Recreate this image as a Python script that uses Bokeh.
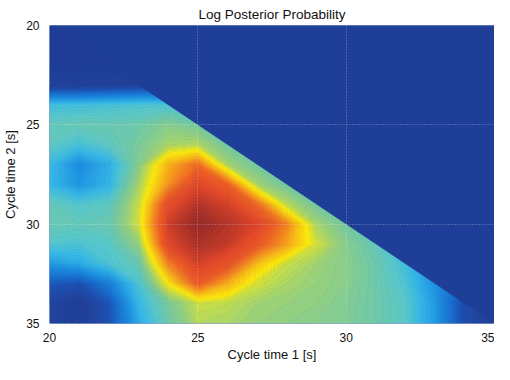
import numpy as np
from bokeh.plotting import figure
from bokeh.models import Range1d, FixedTicker
from bokeh.embed import file_html
from bokeh.resources import INLINE

# ---------------- data ----------------
title_text = "Log Posterior Probability"
x_label = "Cycle time 1 [s]"
y_label = "Cycle time 2 [s]"
tick_values = [20, 25, 30, 35]

cycle_time_1 = [20, 21, 22, 23, 24, 25, 26, 27, 28, 29, 30, 31, 32, 33, 34, 35]
cycle_time_2 = [20, 21, 22, 23, 24, 25, 26, 27, 28, 29, 30, 31, 32, 33, 34, 35]

# relative log-posterior (0 = lowest shown, 100 = peak); rows: cycle time 2, cols: cycle time 1
logpost_t2_20 = [2, 2, 2, 2, 2, 2, 2, 2, 2, 2, 2, 2, 2, 2, 2, 2]
logpost_t2_21 = [2, 2, 2, 2, 2, 2, 2, 2, 2, 2, 2, 2, 2, 2, 2, 2]
logpost_t2_22 = [2, 2, 2, 2, 2, 2, 2, 2, 2, 2, 2, 2, 2, 2, 2, 2]
logpost_t2_23 = [6, 6, 7, 8, 8, 5, 5, 5, 5, 5, 5, 5, 5, 5, 5, 5]
logpost_t2_24 = [38, 38, 39, 40, 40, 38, 30, 20, 10, 5, 5, 5, 5, 5, 5, 5]
logpost_t2_25 = [44, 45, 45, 46, 50, 47, 42, 35, 25, 15, 8, 5, 5, 5, 5, 5]
logpost_t2_26 = [43, 39, 43, 48, 54, 55, 47, 42, 35, 25, 15, 8, 5, 5, 5, 5]
logpost_t2_27 = [37, 27, 34, 50, 70, 80, 54, 47, 42, 36, 28, 18, 10, 6, 5, 5]
logpost_t2_28 = [36, 29, 35, 54, 74, 90, 82, 54, 47, 42, 36, 28, 18, 10, 6, 5]
logpost_t2_29 = [44, 41, 43, 57, 88, 96, 92, 80, 56, 47, 42, 35, 25, 14, 8, 5]
logpost_t2_30 = [45, 44, 45, 58, 93, 100, 96, 91, 76, 54, 47, 42, 33, 20, 10, 6]
logpost_t2_31 = [41, 40, 42, 52, 90, 97, 94, 85, 72, 58, 50, 44, 36, 24, 12, 6]
logpost_t2_32 = [30, 33, 40, 45, 76, 92, 86, 68, 57, 53, 50, 46, 38, 26, 14, 7]
logpost_t2_33 = [16, 14, 24, 40, 62, 83, 70, 58, 54, 52, 50, 46, 40, 28, 16, 8]
logpost_t2_34 = [9, 5, 15, 36, 48, 57, 56, 53, 52, 51, 49, 46, 42, 30, 12, 6]
logpost_t2_35 = [9, 5, 14, 33, 46, 55, 54, 52, 51, 50, 49, 46, 42, 30, 12, 5]

logpost = np.array([
    logpost_t2_20, logpost_t2_21, logpost_t2_22, logpost_t2_23,
    logpost_t2_24, logpost_t2_25, logpost_t2_26, logpost_t2_27,
    logpost_t2_28, logpost_t2_29, logpost_t2_30, logpost_t2_31,
    logpost_t2_32, logpost_t2_33, logpost_t2_34, logpost_t2_35,
], dtype=float)

# ---------------- colour map (muted jet) ----------------
cmap_pos = [0, 8, 14, 20, 28, 36, 42, 46, 52, 57, 62, 68, 75, 82, 90, 96, 101]
cmap_rgb = [
    (30, 60, 150), (33, 66, 155), (30, 80, 175), (25, 110, 205),
    (30, 145, 225), (55, 185, 230), (90, 200, 200), (110, 200, 170),
    (150, 208, 125), (200, 222, 70), (255, 235, 10), (252, 195, 20),
    (248, 140, 30), (240, 95, 35), (228, 72, 40), (180, 52, 40),
    (140, 38, 40),
]


def color_at(v):
    arr = np.array(cmap_rgb, dtype=float)
    r = np.interp(v, cmap_pos, arr[:, 0])
    g = np.interp(v, cmap_pos, arr[:, 1])
    b = np.interp(v, cmap_pos, arr[:, 2])
    return "#%02x%02x%02x" % (int(round(r)), int(round(g)), int(round(b)))


levels = np.arange(0.0, 102.0, 1.0)
band_colors = [color_at((levels[i] + levels[i + 1]) / 2) for i in range(len(levels) - 1)]
line_colors = [color_at(l) for l in levels]

FONT = "Liberation Sans"

p = figure(
    width=494, height=364,
    x_range=Range1d(tick_values[0], tick_values[-1]),
    y_range=Range1d(tick_values[-1], tick_values[0]),
    output_backend="svg", toolbar_location=None,
    title=title_text,
    min_border_left=40, min_border_right=0, min_border_top=4, min_border_bottom=0,
)

p.contour(x=cycle_time_1, y=cycle_time_2, z=logpost, levels=levels,
          fill_color=band_colors, line_color=line_colors, line_width=1.0)

# region with cycle time 2 < cycle time 1 is not admissible (lowest value)
t_lo, t_hi = cycle_time_1[0], cycle_time_1[-1]
p.patch(x=[t_lo, t_hi, t_hi], y=[t_lo, t_hi, t_lo],
        fill_color=color_at(float(logpost.min())), line_color=None)

p.outline_line_color = None
p.background_fill_color = color_at(float(logpost.min()))

p.title.text_font = FONT
p.title.text_font_size = "13.5px"
p.title.text_font_style = "normal"
p.title.text_color = "#111111"
p.title.align = "center"
p.title.standoff = 8

for ax in (p.xaxis[0], p.yaxis[0]):
    ax.ticker = FixedTicker(ticks=tick_values)
    ax.axis_line_color = None
    ax.major_tick_line_color = None
    ax.minor_tick_line_color = None
    ax.major_label_text_font = FONT
    ax.major_label_text_font_size = "12px"
    ax.major_label_text_color = "#111111"
    ax.axis_label_text_font = FONT
    ax.axis_label_text_font_size = "13px"
    ax.axis_label_text_font_style = "normal"
    ax.axis_label_text_color = "#111111"

p.xaxis.axis_label = x_label
p.yaxis.axis_label = y_label
p.xaxis.major_label_standoff = 3
p.xaxis.axis_label_standoff = 2
p.yaxis.major_label_standoff = 4
p.yaxis.axis_label_standoff = 5

p.grid.ticker = FixedTicker(ticks=tick_values)
p.grid.level = "overlay"
p.grid.grid_line_color = "white"
p.grid.grid_line_alpha = 0.4
p.grid.grid_line_dash = "1 2"
p.grid.grid_line_width = 1

open("out.html", "w").write(file_html(p, INLINE))
